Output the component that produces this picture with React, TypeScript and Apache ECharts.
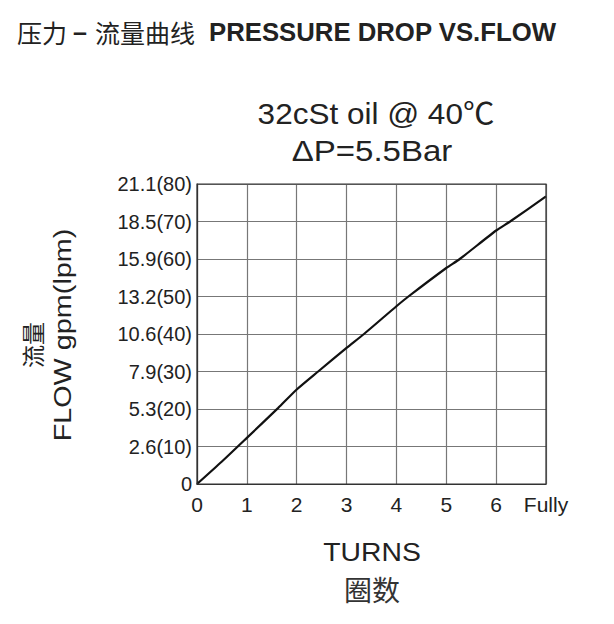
import React, { useEffect, useRef } from "react";
import * as echarts from "echarts";

const yTickLpm = [0, 10, 20, 30, 40, 50, 60, 70, 80];
const yTickLabels = ["0", "2.6(10)", "5.3(20)", "7.9(30)", "10.6(40)", "13.2(50)", "15.9(60)", "18.5(70)", "21.1(80)"];
const xTickLabels = ["0", "1", "2", "3", "4", "5", "6", "Fully"];
const turns = [0, 0.5, 1, 1.63, 2, 2.43, 3, 3.35, 4, 4.24, 5, 5.27, 6, 6.28, 7];
const flowLpm = [0, 6, 12.3, 20.3, 25.2, 30, 36.3, 40, 47.4, 50, 57.6, 60, 67.6, 70, 76.7];

const FONT = "Arial, 'Liberation Sans', sans-serif";
const CJK = "'Noto Sans CJK SC', sans-serif";

export default function App() {
  const ref = useRef<HTMLDivElement>(null);
  useEffect(() => {
    if (!ref.current) return;
    const chart = echarts.init(ref.current, null, { renderer: "svg" });
    chart.setOption({
      animation: false,
      backgroundColor: "#ffffff",
      textStyle: { fontFamily: FONT },
      grid: { left: 197, right: 68, top: 184, bottom: 140, containLabel: false },
      xAxis: {
        type: "value",
        min: 0,
        max: 7,
        interval: 1,
        axisLine: { show: true, lineStyle: { color: "#333", width: 1.2 } },
        axisTick: { show: false },
        splitLine: { show: true, lineStyle: { color: "#777", width: 1.2 } },
        axisLabel: {
          color: "#222",
          fontFamily: FONT,
          fontSize: 21,
          margin: 10,
          formatter: (v: number) => xTickLabels[Math.round(v)] ?? "",
        },
      },
      yAxis: {
        type: "value",
        min: 0,
        max: 80,
        interval: 10,
        axisLine: { show: true, lineStyle: { color: "#333", width: 1.2 } },
        axisTick: { show: false },
        splitLine: { show: true, lineStyle: { color: "#777", width: 1.2 } },
        axisLabel: {
          color: "#222",
          fontFamily: FONT,
          fontSize: 20,
          margin: 5,
          formatter: (v: number) => yTickLabels[yTickLpm.indexOf(Math.round(v))] ?? "",
        },
      },
      series: [
        {
          type: "line",
          data: turns.map((t, i) => [t, flowLpm[i]]),
          showSymbol: false,
          smooth: 0.2,
          lineStyle: { color: "#111", width: 2.2 },
        },
      ],
      graphic: [
        {
          type: "rect",
          shape: { x: 197, y: 184, width: 349, height: 300 },
          style: { fill: "none", stroke: "#333", lineWidth: 1.2 },
          silent: true,
          z: 10,
        },
        {
          type: "text",
          x: 17,
          y: 32,
          style: { text: "压力", font: `25px ${CJK}`, fill: "#222", verticalAlign: "middle" },
        },
        {
          type: "text",
          x: 73,
          y: 32,
          style: { text: "–", font: `bold 25px ${FONT}`, fill: "#222", verticalAlign: "middle" },
        },
        {
          type: "text",
          x: 95,
          y: 32,
          style: { text: "流量曲线", font: `25px ${CJK}`, fill: "#222", verticalAlign: "middle" },
        },
        {
          type: "text",
          x: 209,
          y: 32,
          scaleX: 1.03,
          style: {
            text: "PRESSURE DROP VS.FLOW",
            font: `bold 25px ${FONT}`,
            fill: "#222",
            verticalAlign: "middle",
          },
        },
        {
          type: "text",
          x: 376,
          y: 114,
          scaleX: 1.05,
          style: {
            text: "32cSt oil @ 40℃",
            font: `30px ${FONT}, ${CJK}`,
            fill: "#222",
            align: "center",
            verticalAlign: "middle",
          },
        },
        {
          type: "text",
          x: 372,
          y: 151,
          scaleX: 1.1,
          style: {
            text: "ΔP=5.5Bar",
            font: `30px ${FONT}`,
            fill: "#222",
            align: "center",
            verticalAlign: "middle",
          },
        },
        {
          type: "text",
          x: 372,
          y: 552,
          scaleX: 1.09,
          style: {
            text: "TURNS",
            font: `26px ${FONT}`,
            fill: "#222",
            align: "center",
            verticalAlign: "middle",
          },
        },
        {
          type: "text",
          x: 372,
          y: 589,
          style: {
            text: "圈数",
            font: `28px ${CJK}`,
            fill: "#333",
            align: "center",
            verticalAlign: "middle",
          },
        },
        {
          type: "text",
          x: 32,
          y: 345,
          rotation: Math.PI / 2,
          style: {
            text: "流量",
            font: `23px ${CJK}`,
            fill: "#222",
            align: "center",
            verticalAlign: "middle",
          },
        },
        {
          type: "text",
          x: 63,
          y: 335,
          rotation: Math.PI / 2,
          scaleX: 1.2,
          style: {
            text: "FLOW gpm(lpm)",
            font: `24px ${FONT}`,
            fill: "#222",
            align: "center",
            verticalAlign: "middle",
          },
        },
      ],
    });
    return () => chart.dispose();
  }, []);
  return (
    <div
      ref={ref}
      style={{ position: "fixed", left: 0, top: 0, width: 614, height: 624 }}
    />
  );
}
